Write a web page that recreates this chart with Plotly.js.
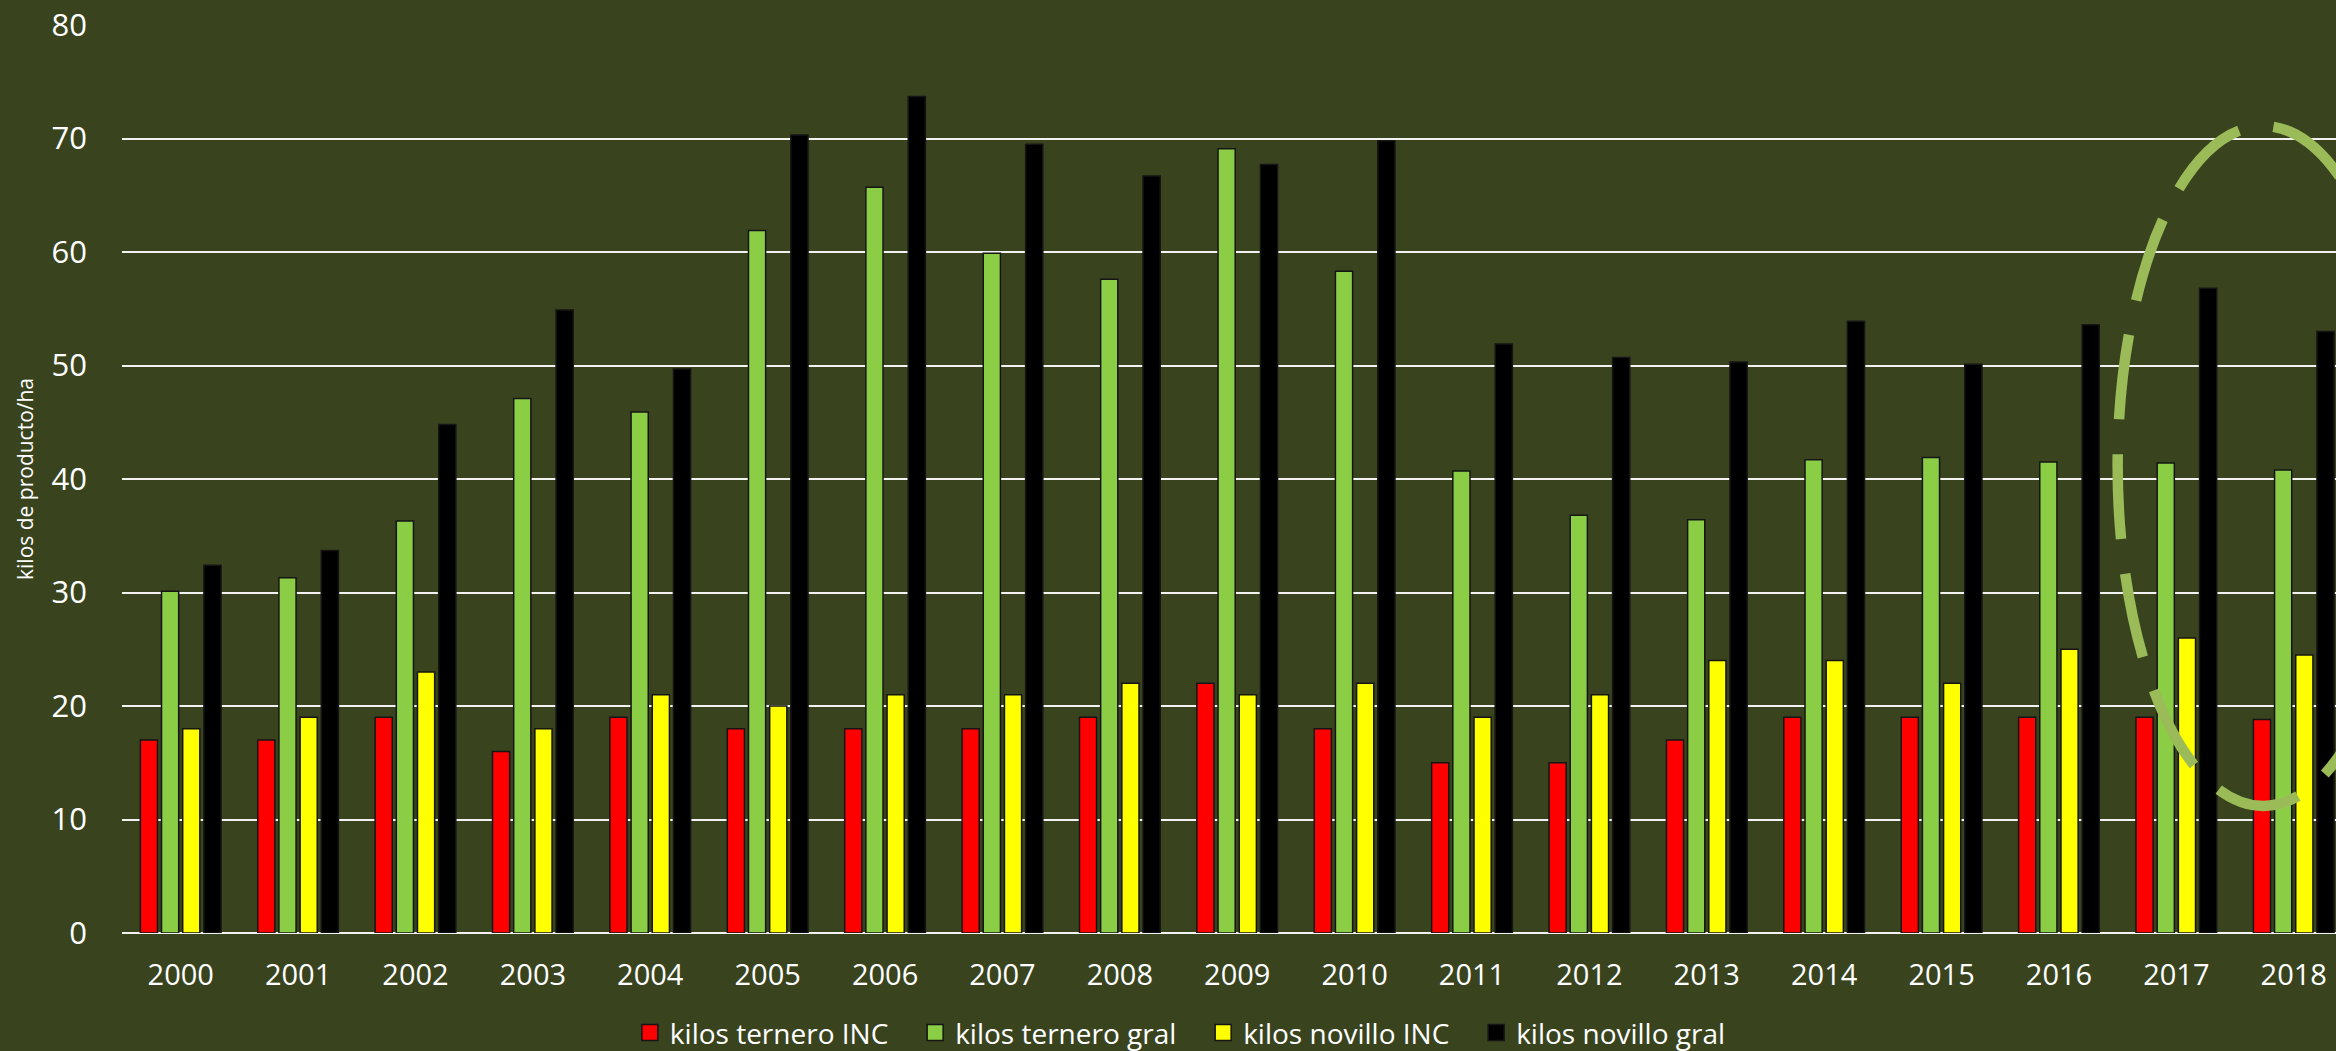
<!DOCTYPE html>
<html>
<head>
<meta charset="utf-8">
<script src="https://cdn.plot.ly/plotly-3.0.1.min.js"></script>
<style>
  html, body { margin: 0; padding: 0; background: #39441F; }
  #chart { width: 2336px; height: 1051px; }
</style>
</head>
<body>
<div id="chart"></div>
<script>
const years = ["2000","2001","2002","2003","2004","2005","2006","2007","2008","2009","2010","2011","2012","2013","2014","2015","2016","2017","2018"];
const terneroINC  = [17, 17, 19, 16, 19, 18, 18, 18, 19, 22, 18, 15, 15, 17, 19, 19, 19, 19, 18.8];
const terneroGral = [30.1, 31.3, 36.3, 47.1, 45.9, 61.9, 65.7, 59.9, 57.6, 69.1, 58.3, 40.7, 36.8, 36.4, 41.7, 41.9, 41.5, 41.4, 40.8];
const novilloINC  = [18, 19, 23, 18, 21, 20, 21, 21, 22, 21, 22, 19, 21, 24, 24, 22, 25, 26, 24.5];
const novilloGral = [32.4, 33.7, 44.8, 54.9, 49.7, 70.3, 73.7, 69.5, 66.7, 67.7, 69.8, 51.9, 50.7, 50.3, 53.9, 50.1, 53.6, 56.8, 53.0];
const seriesNames = ["kilos ternero INC", "kilos ternero gral", "kilos novillo INC", "kilos novillo gral"];
const seriesColors = ["#FF0000", "#8BCE46", "#FFFF00", "#000000"];
const seriesValues = [terneroINC, terneroGral, novilloINC, novilloGral];

const barTraces = seriesValues.map((vals, i) => ({
  type: "bar",
  name: seriesNames[i],
  x: years,
  y: vals,
  showlegend: false,
  marker: { color: seriesColors[i], line: { color: "#151515", width: 1.5 } },
  hoverinfo: "skip"
}));

// legend-only entries (square keys, like the original legend)
const legendTraces = seriesNames.map((nm, i) => ({
  type: "scatter",
  mode: "markers",
  name: nm + "\u00a0\u00a0\u00a0",
  x: [null],
  y: [null],
  showlegend: true,
  marker: { symbol: "square", size: 16, color: seriesColors[i], line: { color: "#151515", width: 1.5 } },
  hoverinfo: "skip"
}));

const layout = {
  width: 2336,
  height: 1051,
  paper_bgcolor: "#39441F",
  plot_bgcolor: "#39441F",
  margin: { l: 122, r: 0, t: 25, b: 118, autoexpand: false },
  barmode: "group",
  bargap: 0.278,
  bargroupgap: 0.19,
  showlegend: true,
  legend: {
    orientation: "h",
    x: 0.483, xanchor: "center",
    y: -0.11, yanchor: "middle",
    itemsizing: "trace",
    font: { family: "Open Sans", size: 28, color: "#ffffff" },
    bgcolor: "rgba(0,0,0,0)"
  },
  xaxis: {
    type: "category",
    range: [-0.5, 18.36],
    showgrid: false,
    zeroline: false,
    showline: false,
    ticks: "",
    ticklabelstandoff: 22,
    tickfont: { family: "Open Sans", size: 29, color: "#ffffff" }
  },
  yaxis: {
    range: [0, 80],
    dtick: 10,
    showgrid: true,
    gridcolor: "#f2f2f2",
    gridwidth: 2,
    zeroline: true,
    zerolinecolor: "#f2f2f2",
    zerolinewidth: 2,
    showline: false,
    ticks: "",
    ticklabelstandoff: 34,
    tickfont: { family: "Open Sans", size: 31, color: "#ffffff" },
    title: {
      text: "kilos de producto/ha",
      font: { family: "Open Sans", size: 21, color: "#ffffff" },
      standoff: 12
    }
  },
  shapes: [{
    type: "circle",
    xref: "x", yref: "y",
    x0: 16.5, x1: 18.98,
    y0: 11.2, y1: 71.1,
    line: { color: "#9BBB59", width: 10.5, dash: "85px,35px" },
    fillcolor: "rgba(0,0,0,0)",
    layer: "above"
  }]
};

Plotly.newPlot("chart", barTraces.concat(legendTraces), layout, { staticPlot: true, displayModeBar: false });
</script>
</body>
</html>
